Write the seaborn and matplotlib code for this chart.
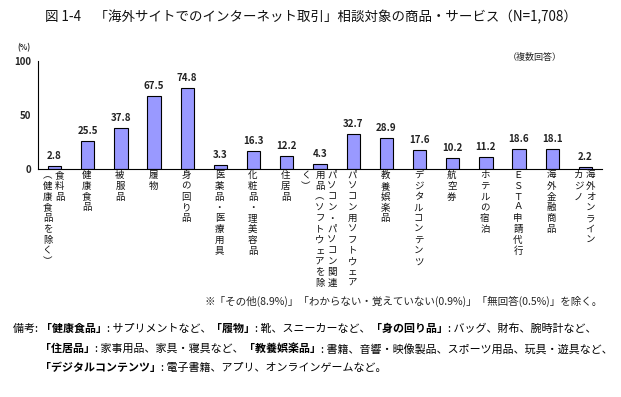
import matplotlib
matplotlib.use("Agg")
import matplotlib.pyplot as plt
import seaborn as sns
import numpy as np
import pandas as pd

# ---- data ----
categories = ["食料品（健康食品を除く）", "健康食品", "被服品", "履物", "身の回り品",
              "医薬品・医療用具", "化粧品・理美容品", "住居品",
              "パソコン・パソコン関連用品（ソフトウェアを除く）", "パソコン用ソフトウェア",
              "教養娯楽品", "デジタルコンテンツ", "航空券", "ホテルの宿泊",
              "ＥＳＴＡ申請代行", "海外金融商品", "海外オンラインカジノ"]
values = [2.8, 25.5, 37.8, 67.5, 74.8, 3.3, 16.3, 12.2, 4.3, 32.7, 28.9,
          17.6, 10.2, 11.2, 18.6, 18.1, 2.2]
# vertical tick label columns (right to left)
label_columns = [["食料品", "︵健康食品を除く︶"], ["健康食品"], ["被服品"], ["履物"],
                 ["身の回り品"], ["医薬品・医療用具"], ["化粧品・理美容品"], ["住居品"],
                 ["パソコン・パソコン関連", "用品︵ソフトウェアを除", "く︶"],
                 ["パソコン用ソフトウェア"], ["教養娯楽品"], ["デジタルコンテンツ"],
                 ["航空券"], ["ホテルの宿泊"], ["ＥＳＴＡ申請代行"], ["海外金融商品"],
                 ["海外オンライン", "カジノ"]]
yticks = [0, 50, 100]
title = "図 1-4　「海外サイトでのインターネット取引」相談対象の商品・サービス（N=1,708）"
note = "※「その他(8.9%)」「わからない・覚えていない(0.9%)」「無回答(0.5%)」を除く。"
remarks = [
    [("備考: ", False), ("「健康食品」", True), (": サプリメントなど、", False), ("「履物」", True),
     (": 靴、スニーカーなど、", False), ("「身の回り品」", True), (": バッグ、財布、腕時計など、", False)],
    [("「住居品」", True), (": 家事用品、家具・寝具など、", False), ("「教養娯楽品」", True),
     (": 書籍、音響・映像製品、スポーツ用品、玩具・遊具など、", False)],
    [("「デジタルコンテンツ」", True), (": 電子書籍、アプリ、オンラインゲームなど。", False)],
]

sns.set_style("white")
plt.rcParams["font.family"] = ["Noto Sans CJK JP", "DejaVu Sans"]

W, H = 621, 397
fig = plt.figure(figsize=(W / 100, H / 100), dpi=100)
ax = fig.add_axes([38 / W, 1 - 169 / H, (602 - 38) / W, (169 - 61) / H])

df = pd.DataFrame({"cat": categories, "val": values})
sns.barplot(data=df, x="cat", y="val", order=categories, color="#9999FF",
            saturation=1, edgecolor="black", linewidth=0.8, width=0.4, ax=ax)

ax.set_ylim(0, 100)
ax.set_xlim(-0.5, len(categories) - 0.5)
ax.set_yticks(yticks)
ax.set_yticklabels([str(t) for t in yticks], fontsize=7, fontweight="bold")
ax.set_xticks(np.arange(-0.5, len(categories), 1.0))
ax.set_xticklabels([])
ax.tick_params(axis="x", length=3, width=0.8, direction="out", color="black")
ax.tick_params(axis="y", length=3, width=0.8, direction="out", color="black", pad=2)
ax.set_xlabel("")
ax.set_ylabel("")
for s in ["top", "right"]:
    ax.spines[s].set_visible(False)
for s in ["left", "bottom"]:
    ax.spines[s].set_color("black")
    ax.spines[s].set_linewidth(0.8)

PT = 0.72  # px -> pt at 100 dpi
xt = ax.get_xaxis_transform()
# value labels
for i, v in enumerate(values):
    ax.annotate(f"{v:.1f}", xy=(i, v), xytext=(0, 10 * PT), textcoords="offset points",
                ha="center", va="center", fontsize=7, fontweight="bold", color="#222222")

# vertical category labels
col_offsets = {1: [-1], 2: [5, -7], 3: [12, 0, -14]}
for i, cols in enumerate(label_columns):
    offs = col_offsets[len(cols)]
    for col, dx in zip(cols, offs):
        for k, ch in enumerate(col):
            ax.annotate(ch, xy=(i, 0), xycoords=xt,
                        xytext=(dx * PT, -(6.5 + k * 10.8) * PT), textcoords="offset points",
                        ha="center", va="center", fontsize=6.8, color="#111111",
                        annotation_clip=False)

fig.text(311 / W, 1 - 17 / H, title, ha="center", va="center", fontsize=9.7, color="#111111")
fig.text(24 / W, 1 - 48 / H, "(%)", ha="center", va="center", fontsize=5.5, fontweight="bold")
fig.text(535 / W, 1 - 57 / H, "（複数回答）", ha="center", va="center", fontsize=6.5)
fig.text(603 / W, 1 - 301 / H, note, ha="right", va="center", fontsize=7.6)

renderer = fig.canvas.get_renderer()
line_y = [329, 349, 368]
line_x = [13, 40, 40]
for segs, y, x0 in zip(remarks, line_y, line_x):
    x = x0
    for txt, bold in segs:
        t = fig.text(x / W, 1 - y / H, txt, ha="left", va="center", fontsize=7.9,
                     fontweight="bold" if bold else "normal", color="black")
        bb = t.get_window_extent(renderer)
        x += bb.width

fig.savefig("out.png", dpi=100)
